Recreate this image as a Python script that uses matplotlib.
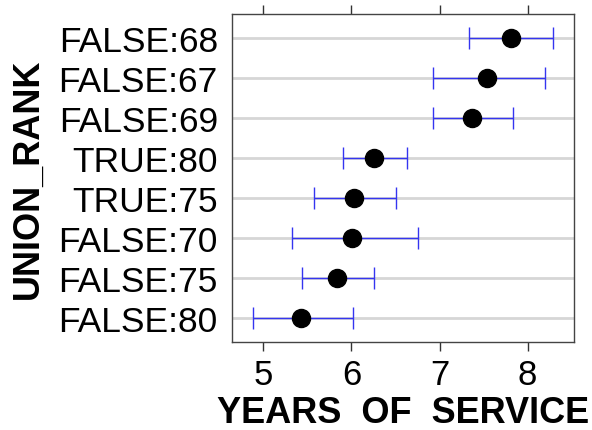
import matplotlib

matplotlib.use("Agg")
import matplotlib.pyplot as plt

plt.rcParams["font.family"] = ["Liberation Sans", "DejaVu Sans"]

# rows listed bottom to top
labels = ["FALSE:80", "FALSE:75", "FALSE:70", "TRUE:75",
          "TRUE:80", "FALSE:69", "FALSE:67", "FALSE:68"]
means = [5.43, 5.84, 6.01, 6.03, 6.26, 7.37, 7.54, 7.81]
lower = [4.88, 5.44, 5.32, 5.57, 5.90, 6.93, 6.92, 7.34]
upper = [6.02, 6.26, 6.75, 6.51, 6.63, 7.83, 8.20, 8.29]
xticks = [5, 6, 7, 8]

fig = plt.figure(figsize=(5.92, 4.31), dpi=100)
axis = fig.add_axes([0.3914, 0.2049, 0.5787, 0.761])
rows = list(range(1, len(labels) + 1))

for row in rows:
    axis.axhline(row, color="#d6d6d6", linewidth=2.0, zorder=1)

errors = [
    [m - lo for m, lo in zip(means, lower)],
    [hi - m for m, hi in zip(means, upper)],
]
axis.errorbar(
    means, rows, xerr=errors, fmt="none", ecolor="#3535f0",
    elinewidth=1.0, capsize=7.8, capthick=1.0, zorder=2,
)
axis.plot(means, rows, "o", color="black", markersize=13, zorder=3)

axis.set_xlim(4.64, 8.53)
axis.set_ylim(0.41, 8.61)
axis.set_yticks(rows, labels, fontsize=25.5)
axis.set_xticks(xticks, [str(t) for t in xticks], fontsize=25)
axis.tick_params(axis="y", length=0, pad=10)
axis.tick_params(axis="x", direction="out", length=6.5, width=1.0,
                 color="#333333", top=True, labeltop=False, pad=5)
for spine in axis.spines.values():
    spine.set_color("#444444")
    spine.set_linewidth(1.0)

axis.set_xlabel("YEARS  OF  SERVICE", fontsize=26, fontweight="bold", labelpad=3)
axis.set_ylabel("UNION_RANK", fontsize=26, fontweight="bold", labelpad=9)

fig.savefig("out.png", dpi=100)
